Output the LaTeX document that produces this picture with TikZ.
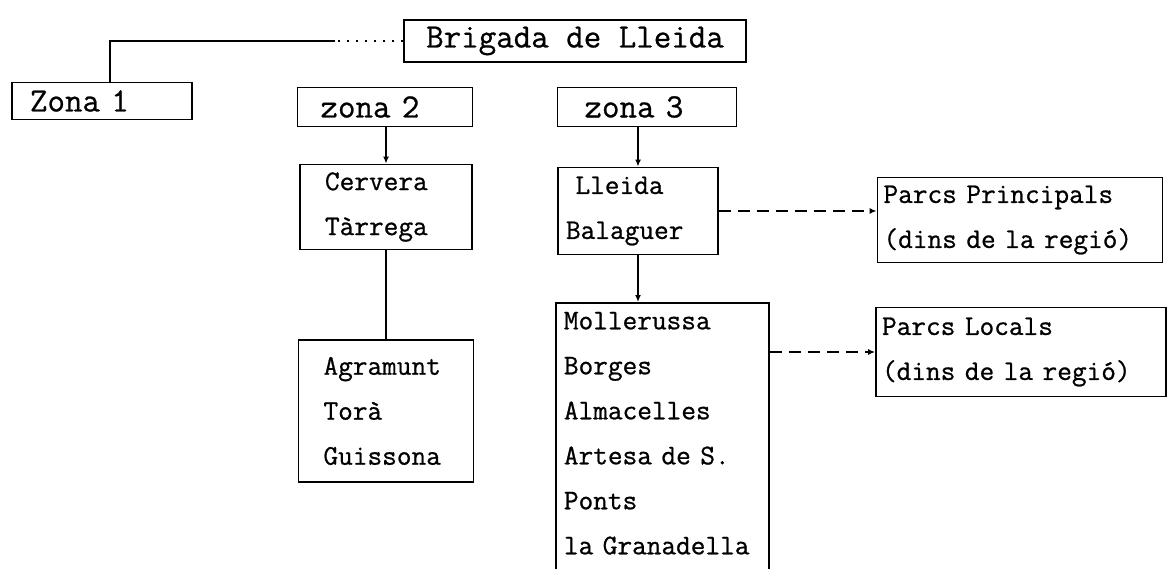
\documentclass[tikz,border=0pt]{standalone}
\usepackage{fontspec}
\newfontfamily\tw[FakeBold=0.8]{Latin Modern Mono}
\usetikzlibrary{arrows.meta}
\newcommand{\hfont}{\tw\fontsize{34}{40}\selectfont}
\newcommand{\lfont}{\tw\fontsize{28.5}{45}\selectfont}

\begin{document}
\begin{tikzpicture}[x=1pt,y=-1pt,
    h/.style={draw,line width=1.8pt,inner ysep=0pt,align=left,font=\hfont},
    l/.style={draw,line width=1.8pt,inner ysep=4pt,align=left,font=\lfont},
    c/.style={line width=1.4pt},
    a/.style={c,-{Latex[length=7pt,width=6pt]}},
    d/.style={a,dash pattern=on 12pt off 7pt}]
  \useasboundingbox (0,0) rectangle (1169,569);
  \clip (0,0) rectangle (1169,569);
  \fill[white] (0,0) rectangle (1169,569);
  % top row
  \node[h,inner xsep=22pt,minimum height=42pt] (br) at (575,41) {Brigada de Lleida};
  \node[h,text width=144pt,inner xsep=18pt,minimum height=37pt] (z1) at (102,101) {Zona 1};
  \node[h,text width=129pt,inner xsep=23pt,minimum height=39pt] (z2) at (385,107) {zona 2};
  \node[h,text width=125pt,inner xsep=27pt,minimum height=39pt] (z3) at (647,107) {zona 3};
  % towns
  \node[l,text width=122pt,inner xsep=25pt,minimum height=85pt] (cv) at (386,207) {Cervera\\Tàrrega};
  \node[l,text width=125pt,inner xsep=25pt,minimum height=142pt] (ag) at (386,411) {Agramunt\\Torà\\Guissona};
  \node[l,text width=144pt,inner xsep=8pt,minimum height=87pt] (lb) at (638,211) {\ Lleida\\Balaguer};
  \node[l,text width=197pt,inner xsep=8pt,inner ysep=9pt,anchor=north west] (ml) at (555,302)
    {Mollerussa\\Borges\\Almacelles\\Artesa de S.\\Ponts\\la Granadella\rule[-40pt]{0pt}{40pt}};
  % parcs
  \node[l,text width=273pt,inner xsep=6pt,minimum height=85pt] (pp) at (1020,220) {Parcs Principals\\(dins de la regió)};
  \node[l,text width=278pt,inner xsep=6pt,minimum height=89pt] (pl) at (1021,352) {Parcs Locals\\(dins de la regió)};
  % links
  \coordinate (k) at (335,41);
  \draw[c,dash pattern=on 2pt off 7pt] (br.west) -- (k);
  \draw[c] (k) -| ([xshift=8pt]z1.north);
  \draw[a] (cv.north |- z2.south) -- (cv.north);
  \draw[c] (ag.north |- cv.south) -- (ag.north);
  \draw[a] (lb.north |- z3.south) -- (lb.north);
  \draw[a] (lb.south) -- (lb.south |- ml.north);
  \draw[d] (lb.east) -- (lb.east -| pp.west);
  \draw[d] (ml.east |- pl.west) -- (pl.west);
\end{tikzpicture}
\end{document}
